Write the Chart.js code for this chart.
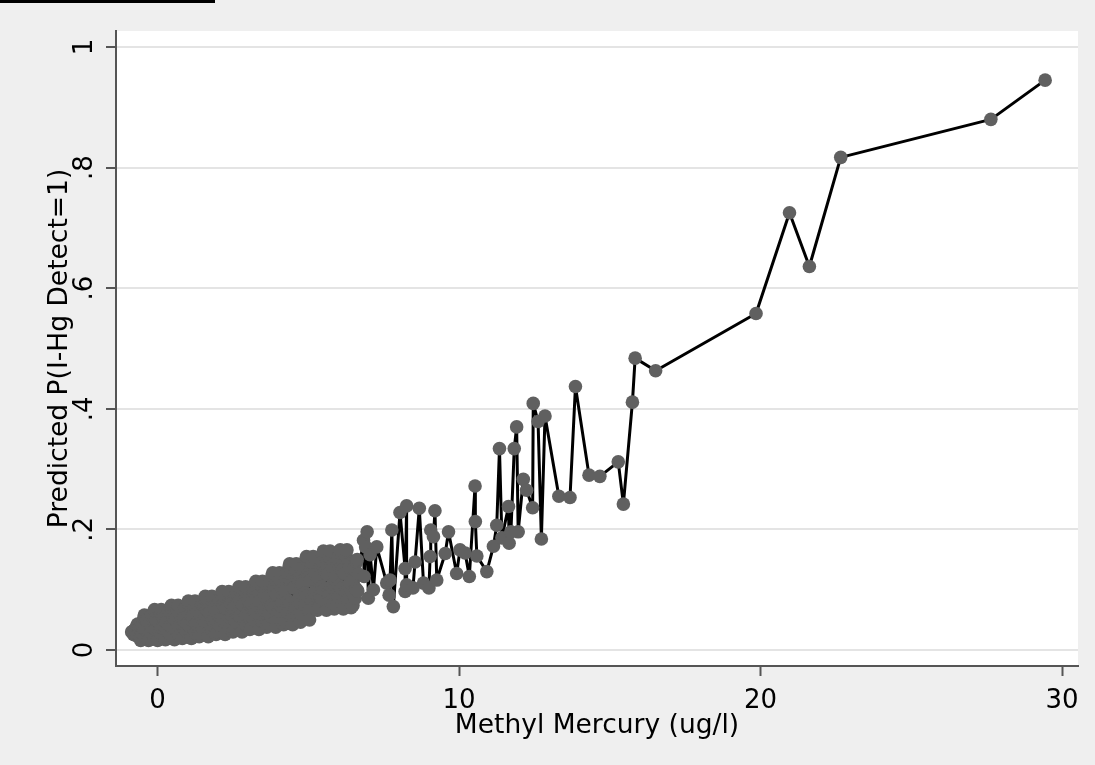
<!DOCTYPE html>
<html>
<head>
<meta charset="utf-8">
<script src="https://cdn.jsdelivr.net/npm/chart.js@4.4.1/dist/chart.umd.min.js"></script>
<style>
html, body { margin: 0; padding: 0; background: #efefef; }
#wrap { position: relative; width: 1095px; height: 765px; }
#topbar { position: absolute; left: 0; top: 0; width: 215px; height: 3px; background: #000; }
</style>
</head>
<body>
<div id="wrap">
    <canvas id="predChart"></canvas>
    <div id="topbar"></div>
</div>
<script>
// dense cluster at low concentrations
const lowX = [
    -0.86, -0.82, -0.78, -0.74, -0.70, -0.66, -0.62, -0.58, -0.54, -0.50, -0.46, -0.42, -0.38, -0.34,
    -0.30, -0.26, -0.22, -0.18, -0.14, -0.10, -0.06, -0.02, 0.02, 0.06, 0.10, 0.14, 0.18, 0.22,
    0.26, 0.30, 0.34, 0.38, 0.42, 0.46, 0.50, 0.54, 0.58, 0.62, 0.66, 0.70, 0.74, 0.78,
    0.82, 0.86, 0.90, 0.94, 0.98, 1.02, 1.06, 1.10, 1.14, 1.18, 1.22, 1.26, 1.30, 1.34,
    1.38, 1.42, 1.46, 1.50, 1.54, 1.58, 1.62, 1.66, 1.70, 1.74, 1.78, 1.82, 1.86, 1.90,
    1.94, 1.98, 2.02, 2.06, 2.10, 2.14, 2.18, 2.22, 2.26, 2.30, 2.34, 2.38, 2.42, 2.46,
    2.50, 2.54, 2.58, 2.62, 2.66, 2.70, 2.74, 2.78, 2.82, 2.86, 2.90, 2.94, 2.98, 3.02,
    3.06, 3.10, 3.14, 3.18, 3.22, 3.26, 3.30, 3.34, 3.38, 3.42, 3.46, 3.50, 3.54, 3.58,
    3.62, 3.66, 3.70, 3.74, 3.78, 3.82, 3.86, 3.90, 3.94, 3.98, 4.02, 4.06, 4.10, 4.14,
    4.18, 4.22, 4.26, 4.30, 4.34, 4.38, 4.42, 4.46, 4.50, 4.54, 4.58, 4.62, 4.66, 4.70,
    4.74, 4.78, 4.82, 4.86, 4.90, 4.94, 4.98, 5.02, 5.06, 5.10, 5.14, 5.18, 5.22, 5.26,
    5.30, 5.34, 5.38, 5.42, 5.46, 5.50, 5.54, 5.58, 5.62, 5.66, 5.70, 5.74, 5.78, 5.82,
    5.86, 5.90, 5.94, 5.98, 6.02, 6.06, 6.10, 6.14, 6.18, 6.22, 6.26, 6.30, 6.34, 6.38,
    6.42, 6.46, 6.50, 6.54, 6.58, 6.62, 6.66
];
const lowY = [
    0.030, 0.031, 0.027, 0.035, 0.027, 0.043, 0.037, 0.019, 0.038, 0.028, 0.053, 0.022, 0.050, 0.037,
    0.016, 0.044, 0.029, 0.059, 0.036, 0.067, 0.052, 0.021, 0.047, 0.031, 0.062, 0.024, 0.054, 0.039,
    0.017, 0.048, 0.031, 0.065, 0.040, 0.074, 0.057, 0.023, 0.051, 0.034, 0.068, 0.026, 0.060, 0.043,
    0.019, 0.053, 0.035, 0.072, 0.044, 0.081, 0.062, 0.025, 0.056, 0.038, 0.075, 0.028, 0.066, 0.047,
    0.022, 0.059, 0.039, 0.079, 0.049, 0.089, 0.069, 0.029, 0.062, 0.042, 0.082, 0.032, 0.072, 0.052,
    0.026, 0.065, 0.044, 0.086, 0.054, 0.097, 0.076, 0.033, 0.069, 0.047, 0.090, 0.037, 0.079, 0.058,
    0.030, 0.071, 0.049, 0.094, 0.060, 0.105, 0.083, 0.038, 0.075, 0.053, 0.098, 0.041, 0.086, 0.064,
    0.034, 0.078, 0.054, 0.102, 0.066, 0.114, 0.090, 0.042, 0.082, 0.058, 0.106, 0.046, 0.094, 0.070,
    0.038, 0.088, 0.061, 0.115, 0.074, 0.128, 0.101, 0.047, 0.092, 0.065, 0.119, 0.052, 0.106, 0.079,
    0.042, 0.098, 0.067, 0.128, 0.082, 0.143, 0.113, 0.052, 0.103, 0.072, 0.133, 0.057, 0.118, 0.087,
    0.046, 0.110, 0.080, 0.140, 0.095, 0.155, 0.125, 0.065, 0.115, 0.085, 0.145, 0.070, 0.130, 0.100,
    0.066, 0.120, 0.090, 0.149, 0.105, 0.164, 0.135, 0.076, 0.125, 0.095, 0.154, 0.081, 0.140, 0.110,
    0.068, 0.122, 0.093, 0.151, 0.107, 0.166, 0.137, 0.078, 0.127, 0.097, 0.156, 0.083, 0.142, 0.112,
    0.070, 0.115, 0.092, 0.138, 0.102, 0.150, 0.126
];

// more readings inside the same cluster
const lowX2 = [
    -0.84, -0.80, -0.76, -0.72, -0.68, -0.64, -0.60, -0.56, -0.52, -0.48, -0.44, -0.40, -0.36, -0.32,
    -0.28, -0.24, -0.20, -0.16, -0.12, -0.08, -0.04, 0.00, 0.04, 0.08, 0.12, 0.16, 0.20, 0.24,
    0.28, 0.32, 0.36, 0.40, 0.44, 0.48, 0.52, 0.56, 0.60, 0.64, 0.68, 0.72, 0.76, 0.80,
    0.84, 0.88, 0.92, 0.96, 1.00, 1.04, 1.08, 1.12, 1.16, 1.20, 1.24, 1.28, 1.32, 1.36,
    1.40, 1.44, 1.48, 1.52, 1.56, 1.60, 1.64, 1.68, 1.72, 1.76, 1.80, 1.84, 1.88, 1.92,
    1.96, 2.00, 2.04, 2.08, 2.12, 2.16, 2.20, 2.24, 2.28, 2.32, 2.36, 2.40, 2.44, 2.48,
    2.52, 2.56, 2.60, 2.64, 2.68, 2.72, 2.76, 2.80, 2.84, 2.88, 2.92, 2.96, 3.00, 3.04,
    3.08, 3.12, 3.16, 3.20, 3.24, 3.28, 3.32, 3.36, 3.40, 3.44, 3.48, 3.52, 3.56, 3.60,
    3.64, 3.68, 3.72, 3.76, 3.80, 3.84, 3.88, 3.92, 3.96, 4.00, 4.04, 4.08, 4.12, 4.16,
    4.20, 4.24, 4.28, 4.32, 4.36, 4.40, 4.44, 4.48, 4.52, 4.56, 4.60, 4.64, 4.68, 4.72,
    4.76, 4.80, 4.84, 4.88, 4.92, 4.96, 5.00, 5.04, 5.08, 5.12, 5.16, 5.20, 5.24, 5.28,
    5.32, 5.36, 5.40, 5.44, 5.48, 5.52, 5.56, 5.60, 5.64, 5.68, 5.72, 5.76, 5.80, 5.84,
    5.88, 5.92, 5.96, 6.00, 6.04, 6.08, 6.12, 6.16, 6.20, 6.24, 6.28, 6.32, 6.36, 6.40,
    6.44, 6.48, 6.52, 6.56, 6.60, 6.64
];
const lowY2 = [
    0.030, 0.026, 0.033, 0.024, 0.041, 0.026, 0.036, 0.016, 0.038, 0.026, 0.058, 0.034, 0.048, 0.022,
    0.042, 0.019, 0.057, 0.026, 0.064, 0.034, 0.049, 0.016, 0.047, 0.029, 0.067, 0.036, 0.052, 0.022,
    0.046, 0.020, 0.063, 0.028, 0.071, 0.037, 0.054, 0.017, 0.051, 0.031, 0.074, 0.040, 0.057, 0.024,
    0.050, 0.022, 0.069, 0.031, 0.078, 0.041, 0.059, 0.019, 0.056, 0.035, 0.081, 0.044, 0.062, 0.026,
    0.056, 0.025, 0.076, 0.035, 0.086, 0.045, 0.066, 0.022, 0.062, 0.039, 0.089, 0.049, 0.069, 0.030,
    0.062, 0.030, 0.083, 0.040, 0.093, 0.051, 0.072, 0.026, 0.069, 0.044, 0.097, 0.054, 0.076, 0.035,
    0.068, 0.034, 0.090, 0.045, 0.101, 0.056, 0.079, 0.030, 0.075, 0.049, 0.105, 0.060, 0.083, 0.039,
    0.074, 0.038, 0.098, 0.050, 0.110, 0.062, 0.086, 0.034, 0.082, 0.054, 0.114, 0.066, 0.090, 0.044,
    0.083, 0.043, 0.110, 0.056, 0.124, 0.070, 0.097, 0.038, 0.092, 0.061, 0.128, 0.074, 0.101, 0.049,
    0.093, 0.047, 0.123, 0.062, 0.138, 0.077, 0.108, 0.042, 0.103, 0.067, 0.143, 0.082, 0.113, 0.054,
    0.105, 0.060, 0.135, 0.075, 0.150, 0.090, 0.120, 0.050, 0.115, 0.080, 0.155, 0.095, 0.125, 0.067,
    0.115, 0.071, 0.144, 0.086, 0.159, 0.100, 0.130, 0.066, 0.125, 0.091, 0.164, 0.105, 0.135, 0.078,
    0.117, 0.073, 0.146, 0.088, 0.161, 0.102, 0.132, 0.068, 0.127, 0.093, 0.166, 0.107, 0.137, 0.080,
    0.110, 0.074, 0.134, 0.086, 0.146, 0.098
];

// sparser readings at higher concentrations
const highX = [
    6.83, 6.85, 6.90, 6.95, 6.99, 7.05, 7.16, 7.27, 7.60, 7.68,
    7.71, 7.77, 7.82, 8.04, 8.21, 8.21, 8.26, 8.26, 8.47, 8.54,
    8.68, 8.82, 9.00, 9.04, 9.06, 9.15, 9.20, 9.26, 9.54, 9.65,
    9.92, 10.03, 10.20, 10.34, 10.53, 10.54, 10.59, 10.92, 11.14, 11.25,
    11.34, 11.42, 11.64, 11.66, 11.72, 11.83, 11.91, 11.96, 12.13, 12.24,
    12.44, 12.46, 12.62, 12.73, 12.85, 13.31, 13.68, 13.86, 14.31, 14.67,
    15.28, 15.45, 15.75, 15.84, 16.52, 19.85, 20.96, 21.62, 22.66, 27.64,
    29.44
];
const highY = [
    0.182, 0.122, 0.171, 0.196, 0.086, 0.158, 0.100, 0.171, 0.111, 0.091,
    0.116, 0.199, 0.072, 0.228, 0.135, 0.097, 0.239, 0.108, 0.103, 0.146,
    0.235, 0.111, 0.103, 0.155, 0.199, 0.188, 0.231, 0.116, 0.160, 0.196,
    0.127, 0.166, 0.161, 0.122, 0.272, 0.213, 0.156, 0.130, 0.172, 0.207,
    0.334, 0.186, 0.238, 0.177, 0.196, 0.334, 0.370, 0.196, 0.283, 0.265,
    0.236, 0.409, 0.379, 0.184, 0.388, 0.255, 0.253, 0.437, 0.290, 0.288,
    0.312, 0.242, 0.411, 0.484, 0.463, 0.558, 0.725, 0.636, 0.817, 0.880,
    0.945
];

const xTicks = [0, 10, 20, 30];
const yTicks = [0, 0.2, 0.4, 0.6, 0.8, 1];
const yTickLabels = ['0', '.2', '.4', '.6', '.8', '1'];

// connected in order of concentration, as the original does
const methylHg = lowX.concat(lowX2, highX);
const predicted = lowY.concat(lowY2, highY);
const points = methylHg.map((x, i) => ({ x: x, y: predicted[i] }));
points.sort((a, b) => a.x - b.x);

const tickFont = { family: 'DejaVu Sans', size: 26 };
const titleFont = { family: 'DejaVu Sans', size: 26.5 };
const axisGrey = '#555555';

// white plot region on the grey page
const plotBg = {
    id: 'plotBg',
    beforeDraw(chart) {
        const { ctx, chartArea: a } = chart;
        ctx.save();
        ctx.fillStyle = '#ffffff';
        ctx.fillRect(a.left, a.top, a.right - a.left, a.bottom - a.top);
        ctx.restore();
    }
};

// y tick labels are turned sideways like in the original
const yLabels = {
    id: 'yLabels',
    afterDraw(chart) {
        const { ctx } = chart;
        const y = chart.scales.y;
        ctx.save();
        ctx.font = '26px "DejaVu Sans"';
        ctx.fillStyle = '#000000';
        ctx.textAlign = 'center';
        ctx.textBaseline = 'middle';
        yTicks.forEach((v, i) => {
            ctx.save();
            ctx.translate(85, y.getPixelForValue(v));
            ctx.rotate(-Math.PI / 2);
            ctx.fillText(yTickLabels[i], 0, 0);
            ctx.restore();
        });
        ctx.restore();
    }
};

const ctx = document.getElementById('predChart').getContext('2d');
new Chart(ctx, {
    type: 'line',
    data: {
        datasets: [{
            data: points,
            borderColor: '#000000',
            borderWidth: 3,
            borderJoinStyle: 'round',
            borderCapStyle: 'round',
            pointRadius: 6.8,
            pointBorderWidth: 0,
            pointBackgroundColor: '#606060',
            tension: 0
        }]
    },
    options: {
        responsive: true,
        maintainAspectRatio: false,
        animation: false,
        layout: { padding: { top: 31, right: 17, left: 0, bottom: 0 } },
        plugins: {
            legend: { display: false },
            tooltip: { enabled: false }
        },
        scales: {
            x: {
                type: 'linear',
                min: -1.38,
                max: 30.53,
                afterBuildTicks: s => { s.ticks = xTicks.map(v => ({ value: v })); },
                afterFit: s => { s.height = 99; },
                grid: { drawOnChartArea: false, tickLength: 10, tickColor: axisGrey, tickWidth: 2 },
                border: { color: axisGrey, width: 2 },
                ticks: { font: tickFont, color: '#000000', padding: 10, maxRotation: 0, callback: v => String(v) },
                title: {
                    display: true,
                    text: 'Methyl Mercury (ug/l)',
                    font: titleFont,
                    color: '#000000',
                    padding: { top: 0, bottom: 23 }
                }
            },
            y: {
                type: 'linear',
                min: -0.0265,
                max: 1.0265,
                afterBuildTicks: s => { s.ticks = yTicks.map(v => ({ value: v })); },
                afterFit: s => { s.width = 116; },
                grid: { color: '#e4e4e4', lineWidth: 2, tickLength: 10, tickColor: axisGrey, tickWidth: 2 },
                border: { color: axisGrey, width: 2 },
                ticks: { display: false },
                title: {
                    display: true,
                    text: 'Predicted P(I-Hg Detect=1)',
                    font: titleFont,
                    color: '#000000',
                    padding: { top: 44, bottom: 0 }
                }
            }
        }
    },
    plugins: [plotBg, yLabels]
});
</script>
</body>
</html>
